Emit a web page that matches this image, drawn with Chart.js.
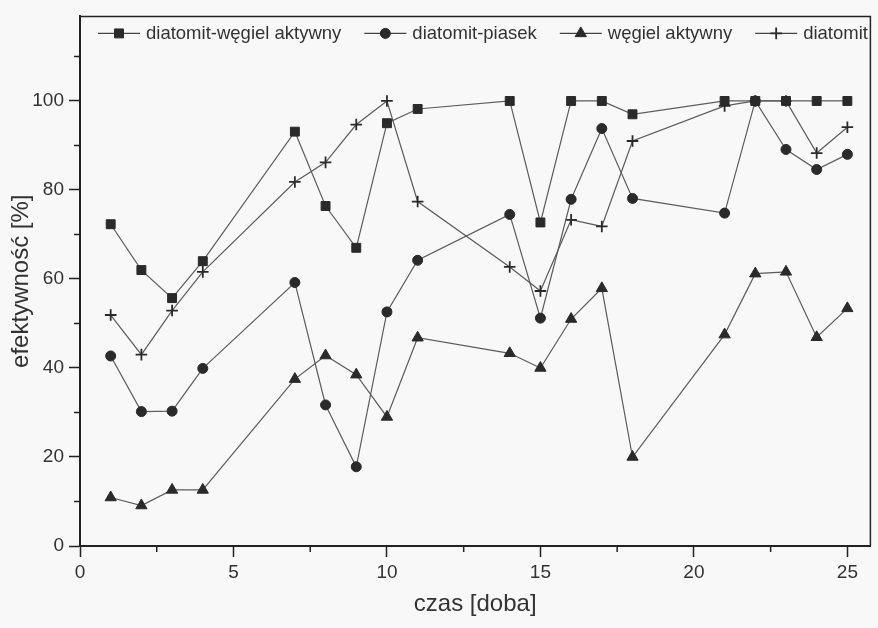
<!DOCTYPE html>
<html lang="pl">
<head>
<meta charset="utf-8">
<title>efektywność</title>
<script src="https://cdn.jsdelivr.net/npm/chart.js@4.4.1/dist/chart.umd.min.js"></script>
<style>
    html, body { margin: 0; padding: 0; background: #f8f8f8; }
    #contenedor { width: 878px; height: 628px; }
</style>
</head>
<body>
<div id="contenedor">
    <canvas id="myChart" width="878" height="628"></canvas>
</div>
<script>
// datos
const dias = [1, 2, 3, 4, 7, 8, 9, 10, 11, 14, 15, 16, 17, 18, 21, 22, 23, 24, 25];
const diatomitWegiel = [72.3, 62, 55.7, 64, 93.1, 76.4, 67, 95, 98.2, 100, 72.7, 100, 100, 97, 100, 100, 100, 100, 100];
const diatomitPiasek = [42.7, 30.2, 30.3, 39.9, 59.2, 31.7, 17.8, 52.6, 64.2, 74.5, 51.2, 77.9, 93.8, 78.1, 74.8, 100, 89.1, 84.6, 88.0];
const wegielAktywny = [10.9, 9.1, 12.6, 12.6, 37.5, 42.8, 38.5, 29, 46.8, 43.3, 40, 51, 57.9, 20, 47.5, 61.2, 61.6, 46.9, 53.4];
const diatomit = [51.9, 43, 52.9, 61.6, 81.8, 86.2, 94.7, 100, 77.4, 62.7, 57.3, 73.3, 71.8, 91, 98.9, 100, 100, 88.3, 94.1];

const etiquetas = ['diatomit-węgiel aktywny', 'diatomit-piasek', 'węgiel aktywny', 'diatomit'];

// ticks
const xTicks = [0, 5, 10, 15, 20, 25];
const xTicksMenores = [2.5, 7.5, 12.5, 17.5, 22.5];
const yTicks = [0, 20, 40, 60, 80, 100];
const yTicksMenores = [10, 30, 50, 70, 90, 110];

const colorMarca = '#2a2a2a';
const colorLinea = '#5c5c5c';
const colorEje = '#222222';

Chart.defaults.font.family = "'Liberation Sans', Arial, sans-serif";
Chart.defaults.color = '#333333';

function serie(valores) {
    return valores.map((v, i) => ({ x: dias[i], y: v }));
}

// fondo, marco y ticks menores
const marcoPlugin = {
    id: 'marco',
    beforeDraw(chart) {
        const ctx = chart.ctx;
        ctx.save();
        ctx.fillStyle = '#f8f8f8';
        ctx.fillRect(0, 0, chart.width, chart.height);
        ctx.restore();
    },
    afterDraw(chart) {
        const ctx = chart.ctx;
        const a = chart.chartArea;
        const sx = chart.scales.x;
        const sy = chart.scales.y;
        ctx.save();
        ctx.strokeStyle = colorEje;
        ctx.lineWidth = 1.5;
        ctx.beginPath();
        ctx.moveTo(a.left, a.top);
        ctx.lineTo(a.right, a.top);
        ctx.lineTo(a.right, a.bottom);
        ctx.stroke();

        ctx.lineWidth = 1.5;
        ctx.beginPath();
        xTicksMenores.forEach(v => {
            const px = sx.getPixelForValue(v);
            ctx.moveTo(px, a.bottom);
            ctx.lineTo(px, a.bottom + 6);
        });
        yTicksMenores.forEach(v => {
            const py = sy.getPixelForValue(v);
            ctx.moveTo(a.left, py);
            ctx.lineTo(a.left - 6, py);
        });
        ctx.stroke();
        ctx.restore();
    }
};

// leyenda dentro del area del grafico
const leyendaPlugin = {
    id: 'leyendaDentro',
    afterDatasetsDraw(chart) {
        const ctx = chart.ctx;
        const a = chart.chartArea;
        let x = a.left + 18;
        const y = a.top + 17;
        ctx.save();
        ctx.font = "18.5px 'Liberation Sans', Arial, sans-serif";
        ctx.textBaseline = 'middle';
        chart.data.datasets.forEach(ds => {
            ctx.strokeStyle = '#444444';
            ctx.lineWidth = 1.2;
            ctx.beginPath();
            ctx.moveTo(x, y);
            ctx.lineTo(x + 42, y);
            ctx.stroke();

            ctx.fillStyle = colorMarca;
            ctx.strokeStyle = colorMarca;
            ctx.lineWidth = ds.pointBorderWidth;
            Chart.helpers.drawPoint(ctx, {
                pointStyle: ds.pointStyle,
                radius: ds.pointRadius,
                rotation: 0,
                borderWidth: ds.pointBorderWidth
            }, x + 21, y);

            ctx.fillStyle = '#333333';
            ctx.fillText(ds.label, x + 48, y + 1);
            x += 48 + ctx.measureText(ds.label).width + 23;
        });
        ctx.restore();
    }
};

const ctx = document.getElementById('myChart').getContext('2d');

new Chart(ctx, {
    type: 'line',
    data: {
        datasets: [
            {
                label: etiquetas[0],
                data: serie(diatomitWegiel),
                pointStyle: 'rect',
                pointRadius: 6.3,
                pointBorderWidth: 1
            },
            {
                label: etiquetas[1],
                data: serie(diatomitPiasek),
                pointStyle: 'circle',
                pointRadius: 5,
                pointBorderWidth: 1
            },
            {
                label: etiquetas[2],
                data: serie(wegielAktywny),
                pointStyle: 'triangle',
                pointRadius: 6.5,
                pointBorderWidth: 1
            },
            {
                label: etiquetas[3],
                data: serie(diatomit),
                pointStyle: 'cross',
                pointRadius: 5.8,
                pointBorderWidth: 1.8
            }
        ].map(ds => Object.assign({
            borderColor: colorLinea,
            borderWidth: 1.2,
            backgroundColor: colorMarca,
            pointBackgroundColor: colorMarca,
            pointBorderColor: colorMarca,
            pointHoverRadius: ds.pointRadius,
            fill: false,
            tension: 0
        }, ds))
    },
    options: {
        responsive: false,
        animation: false,
        devicePixelRatio: 1,
        layout: {
            padding: { top: 12, right: 6, left: 0, bottom: 0 }
        },
        plugins: {
            legend: { display: false },
            tooltip: { enabled: false }
        },
        scales: {
            x: {
                type: 'linear',
                min: 0,
                max: 25.75,
                afterBuildTicks: scale => { scale.ticks = xTicks.map(v => ({ value: v })); },
                afterFit: scale => { scale.height = 82; },
                grid: {
                    drawOnChartArea: false,
                    drawTicks: true,
                    tickLength: 11,
                    tickWidth: 1.5,
                    tickColor: colorEje
                },
                border: { display: true, color: colorEje, width: 2 },
                ticks: {
                    padding: 4,
                    maxRotation: 0,
                    font: { size: 19 },
                    color: '#333333'
                },
                title: {
                    display: true,
                    text: 'czas [doba]',
                    font: { size: 24 },
                    color: '#333333',
                    padding: { top: 0, bottom: 9 }
                }
            },
            y: {
                type: 'linear',
                min: 0,
                max: 119,
                afterBuildTicks: scale => { scale.ticks = yTicks.map(v => ({ value: v })); },
                afterFit: scale => { scale.width = 80; },
                grid: {
                    drawOnChartArea: false,
                    drawTicks: true,
                    tickLength: 11,
                    tickWidth: 1.5,
                    tickColor: colorEje
                },
                border: { display: true, color: colorEje, width: 2 },
                ticks: {
                    padding: 5,
                    font: { size: 19 },
                    color: '#333333'
                },
                title: {
                    display: true,
                    text: 'efektywność [%]',
                    font: { size: 24 },
                    color: '#333333',
                    padding: { top: 7, bottom: 0 }
                }
            }
        }
    },
    plugins: [marcoPlugin, leyendaPlugin]
});
</script>
</body>
</html>
